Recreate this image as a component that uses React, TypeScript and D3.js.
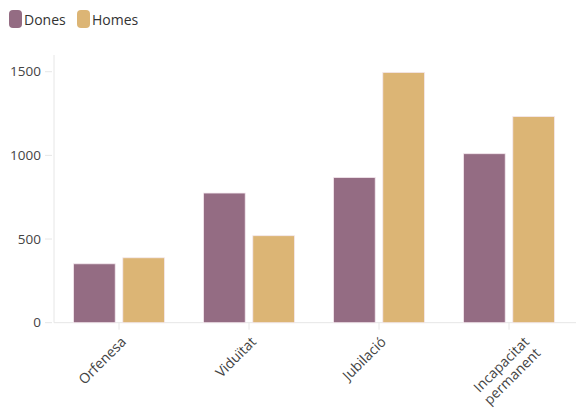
import React from "react";
import * as d3 from "d3";

const categories: string[][] = [["Orfenesa"], ["Viduïtat"], ["Jubilació"], ["Incapacitat", "permanent"]];
const seriesNames = ["Dones", "Homes"];
const dones = [352, 775, 868, 1010];
const homes = [388, 520, 1496, 1232];
const yTicks = [0, 500, 1000, 1500];
const colors = ["#946c83", "#dcb575"];

const W = 587, H = 410;
const left = 54, right = 574, top = 55, bottom = 322.7;

export default function App() {
  const x = d3.scaleBand<number>().domain(d3.range(categories.length)).range([left, right]).paddingInner(0).paddingOuter(0);
  const y = d3.scaleLinear().domain([0, 1600]).range([bottom, top]);
  const bw = x.bandwidth();
  const inner = d3.scaleBand<number>().domain([0, 1]).range([0.15 * bw, 0.85 * bw]).paddingInner(0.154).paddingOuter(0);
  const series = [dones, homes];
  const font = "'Open Sans', sans-serif";
  return (
    <svg width={W} height={H} style={{ position: "absolute", left: 0, top: 0 }}>
      <g fontFamily={font}>
        {seriesNames.map((s, i) => {
          const lx = [9, 77][i];
          return (
            <g key={s}>
              <rect x={lx} y={10} width={13} height={18} rx={4} fill={colors[i]} />
              <text x={lx + 15} y={24.5} fontSize={14} fill="#333">{s}</text>
            </g>
          );
        })}
        <line x1={left} x2={left} y1={top} y2={bottom} stroke="#e6e6e6" />
        <line x1={left} x2={right + 2} y1={bottom} y2={bottom} stroke="#e6e6e6" />
        {yTicks.map((t) => (
          <g key={t}>
            <line x1={45} x2={52} y1={y(t)} y2={y(t)} stroke="#e6e6e6" />
            <text x={41} y={y(t)} dy="0.35em" textAnchor="end" fontSize={13.5} fill="#444">{t}</text>
          </g>
        ))}
        {categories.map((c, ci) => {
          const cx = (x(ci) as number) + bw / 2;
          return (
            <g key={ci}>
              <line x1={cx} x2={cx} y1={bottom} y2={bottom + 7} stroke="#e6e6e6" />
              {series.map((vals, si) => (
                <rect
                  key={si}
                  x={(x(ci) as number) + (inner(si) as number)}
                  y={y(vals[ci])}
                  width={inner.bandwidth()}
                  height={bottom - y(vals[ci])}
                  fill={colors[si]}
                  stroke="#f4e8ee"
                  strokeWidth={0.8}
                />
              ))}
              <text
                transform={`translate(${cx + 8 + (c.length - 1) * 13},${bottom + 20}) rotate(-45)`}
                textAnchor="end"
                fontSize={14}
                fill="#444"
              >
                {c.map((line, li) => (
                  <tspan key={li} x={0} dy={li === 0 ? 0 : "1.15em"}>{line}</tspan>
                ))}
              </text>
            </g>
          );
        })}
      </g>
    </svg>
  );
}
